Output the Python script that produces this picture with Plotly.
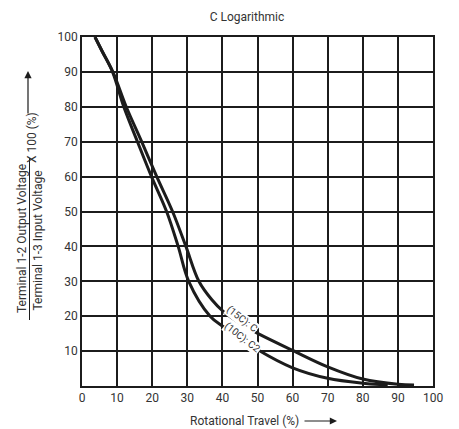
import plotly.graph_objects as go

# Data
travel_c = [3.7, 5.7, 8.8, 12.6, 17.0, 21.3, 25.8, 29.6, 33.3, 37.0, 40.3, 45.0, 50.2, 60.0, 70.0, 80.0, 90.0, 94.6]
output_c = [100, 96, 90, 80, 70, 60, 50, 40, 30, 24.7, 21.3, 18.0, 15.0, 10.2, 5.5, 2.0, 0.5, 0.3]

travel_c2 = [3.7, 5.7, 8.7, 11.9, 15.8, 19.8, 24.1, 27.4, 30.4, 36.5, 40.3, 50.2, 60.0, 70.0, 80.0, 87.1]
output_c2 = [100, 96, 90, 80, 70, 60, 50, 40, 30, 20.0, 17.0, 10.3, 5.2, 2.2, 0.8, 0.3]

x_ticks = [0, 10, 20, 30, 40, 50, 60, 70, 80, 90, 100]
y_ticks = [10, 20, 30, 40, 50, 60, 70, 80, 90, 100]

W, H = 459, 429
L, R, T, B = 82, 26, 37, 43
PW, PH = W - L - R, H - T - B

def px(xp):
    return (xp - L) / PW

def py(yp):
    return (H - B - yp) / PH

FONT = "Roboto"
TXT = "#333333"
INK = "#1c1c1c"

fig = go.Figure()
fig.add_trace(go.Scatter(x=travel_c, y=output_c, mode="lines", name="(15C): C",
                         line=dict(color=INK, width=3, shape="spline", smoothing=1.0)))
fig.add_trace(go.Scatter(x=travel_c2, y=output_c2, mode="lines", name="(10C): C2",
                         line=dict(color=INK, width=3, shape="spline", smoothing=1.0)))

axis_common = dict(range=[0, 100], showgrid=True, gridcolor=INK, gridwidth=1.5,
                   showline=True, linecolor=INK, linewidth=1.5, mirror=True,
                   zeroline=False, ticks="", tickfont=dict(family=FONT, size=12, color=TXT))

fig.update_xaxes(tickvals=x_ticks, ticktext=[str(v) for v in x_ticks], **axis_common)
fig.update_yaxes(tickvals=y_ticks, ticktext=[str(v) for v in y_ticks], **axis_common)

annotations = [
    dict(x=45.5, y=19.2, xref="x", yref="y", text="(15C): C", showarrow=False,
         textangle=38, font=dict(family=FONT, size=10, color=TXT), bgcolor="white", borderpad=0),
    dict(x=45.7, y=13.7, xref="x", yref="y", text="(10C): C2", showarrow=False,
         textangle=38, font=dict(family=FONT, size=10, color=TXT), bgcolor="white", borderpad=0),
    # x axis title + arrow
    dict(x=px(244), y=py(421), xref="paper", yref="paper", text="Rotational Travel (%)",
         showarrow=False, font=dict(family=FONT, size=12, color=TXT), xanchor="center", yanchor="middle"),
    dict(x=px(337), y=py(421), xref="paper", yref="paper", text="", showarrow=True,
         ax=-34, ay=0, arrowhead=2, arrowsize=1.2, arrowwidth=1.2, arrowcolor=INK),
    # y axis fraction title
    dict(x=px(22), y=py(239), xref="paper", yref="paper", text="Terminal 1-2 Output Voltage",
         showarrow=False, textangle=-90, font=dict(family=FONT, size=12, color=TXT),
         xanchor="center", yanchor="middle"),
    dict(x=px(37.5), y=py(240), xref="paper", yref="paper", text="Terminal 1-3 Input Voltage",
         showarrow=False, textangle=-90, font=dict(family=FONT, size=12, color=TXT),
         xanchor="center", yanchor="middle"),
    dict(x=px(32), y=py(138), xref="paper", yref="paper", text="X 100 (%)",
         showarrow=False, textangle=-90, font=dict(family=FONT, size=12, color=TXT),
         xanchor="center", yanchor="middle"),
    dict(x=px(28), y=py(71), xref="paper", yref="paper", text="", showarrow=True,
         ax=0, ay=44, arrowhead=2, arrowsize=1.2, arrowwidth=1.2, arrowcolor=INK),
]

shapes = [
    dict(type="line", xref="paper", yref="paper", x0=px(29.5), x1=px(29.5),
         y0=py(158), y1=py(320), line=dict(color=INK, width=1)),
]

fig.update_layout(
    width=W, height=H,
    margin=dict(l=L, r=R, t=T, b=B),
    paper_bgcolor="white", plot_bgcolor="white",
    showlegend=False,
    title=dict(text="C Logarithmic", x=247 / W, xanchor="center", y=1 - 17 / H, yanchor="middle",
               font=dict(family=FONT, size=12, color=TXT)),
    annotations=annotations,
    shapes=shapes,
)

fig.write_html("out.html", config={"displayModeBar": False},
               post_script="document.body.style.margin='0';document.body.style.overflow='hidden';")
